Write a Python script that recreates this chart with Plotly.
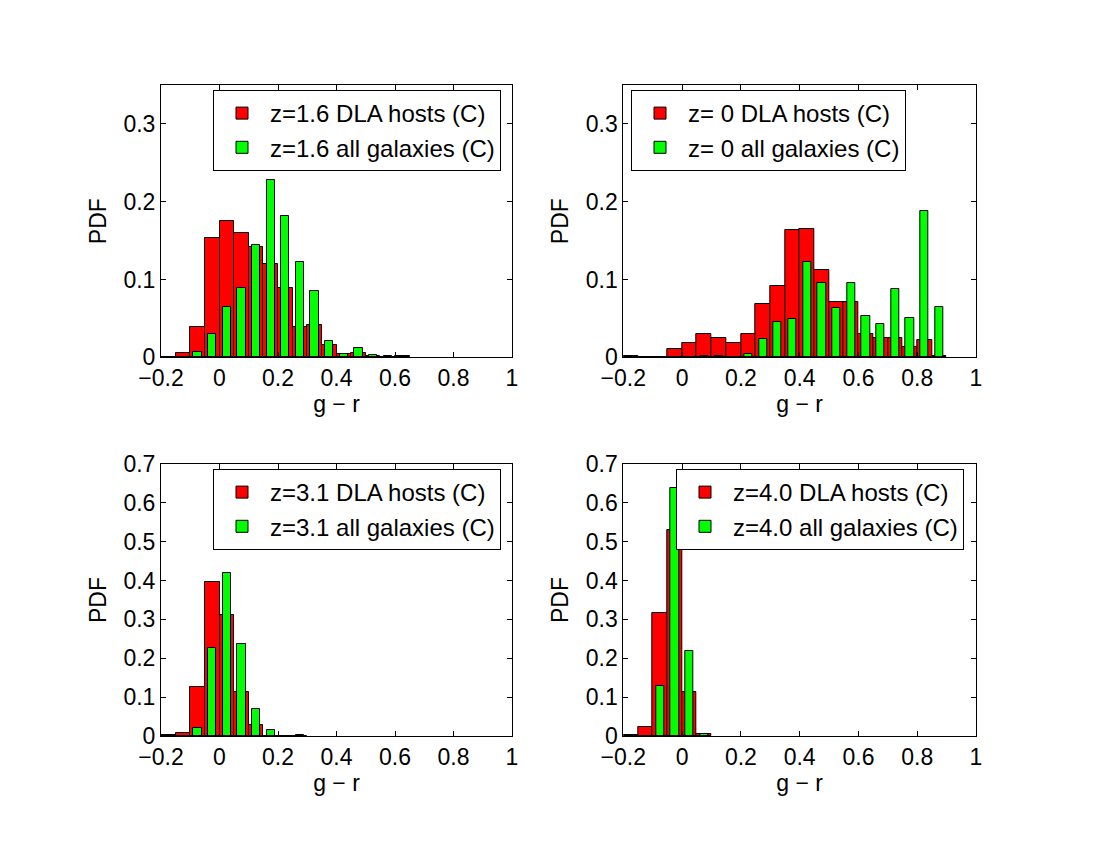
import plotly.graph_objects as go

# ---------------- data ----------------
# panel 1: z = 1.6
bins_z16 = [-0.175, -0.125, -0.075, -0.025, 0.025, 0.075, 0.125, 0.175, 0.225,
            0.275, 0.325, 0.375, 0.425, 0.475, 0.525, 0.575, 0.625]
dla_z16 = [0.0, 0.005, 0.0386, 0.153, 0.175, 0.160, 0.1416, 0.120, 0.089,
           0.0395, 0.041, 0.016, 0.004, 0.0056, 0.002, 0.001, 0.002]
all_z16 = [0.0, 0.0, 0.0073, 0.0296, 0.0644, 0.0897, 0.1446, 0.2283, 0.182,
           0.123, 0.0854, 0.0215, 0.0043, 0.0116, 0.0026, 0.0013, 0.0005]

# panel 2: z = 0
bins_z0 = [-0.175, -0.125, -0.075, -0.025, 0.025, 0.075, 0.125, 0.175, 0.225,
           0.275, 0.325, 0.375, 0.425, 0.475, 0.525, 0.575, 0.625, 0.675,
           0.725, 0.775, 0.825, 0.875]
dla_z0 = [0.0017, 0.0, 0.0, 0.0107, 0.018, 0.0296, 0.0245, 0.018, 0.0296,
          0.068, 0.0914, 0.1635, 0.165, 0.1124, 0.0708, 0.0708, 0.0296, 0.0245,
          0.0245, 0.0129, 0.0223, 0.0017]
all_z0 = [0.0, 0.0, 0.0, 0.0005, 0.0003, 0.0013, 0.0017, 0.001, 0.0039,
          0.024, 0.046, 0.0498, 0.1227, 0.0961, 0.0631, 0.0953, 0.0528, 0.0425,
          0.0876, 0.0502, 0.188, 0.0652]

# panel 3: z = 3.1
bins_z31 = [-0.175, -0.125, -0.075, -0.025, 0.025, 0.075, 0.125, 0.175, 0.225, 0.275]
dla_z31 = [0.0026, 0.0077, 0.125, 0.396, 0.311, 0.112, 0.0274, 0.001, 0.0, 0.0]
all_z31 = [0.0, 0.0, 0.0197, 0.227, 0.4185, 0.236, 0.0686, 0.0146, 0.0, 0.0017]

# panel 4: z = 4.0
bins_z40 = [-0.175, -0.125, -0.075, -0.025, 0.025, 0.075]
dla_z40 = [0.0026, 0.023, 0.317, 0.530, 0.112, 0.0043]
all_z40 = [0.0, 0.001, 0.1295, 0.637, 0.220, 0.0043]

labels_dla = ["z=1.6 DLA hosts (C)", "z= 0 DLA hosts (C)",
              "z=3.1 DLA hosts (C)", "z=4.0 DLA hosts (C)"]
labels_all = ["z=1.6 all galaxies (C)", "z= 0 all galaxies (C)",
              "z=3.1 all galaxies (C)", "z=4.0 all galaxies (C)"]

x_ticks = [-0.2, 0, 0.2, 0.4, 0.6, 0.8, 1]
x_ticktext = ["\u22120.2", "0", "0.2", "0.4", "0.6", "0.8", "1"]
y_ticks_top = [0, 0.1, 0.2, 0.3]
y_ticks_bot = [0, 0.1, 0.2, 0.3, 0.4, 0.5, 0.6, 0.7]

# ---------------- styling ----------------
FONT = "Liberation Sans, Arial, Helvetica, sans-serif"
FS = 23
RED = "#ff0000"
GREEN = "#00ff00"
W_RED = 0.05
W_GREEN = 0.028

panels = [
    (bins_z16, dla_z16, all_z16),
    (bins_z0, dla_z0, all_z0),
    (bins_z31, dla_z31, all_z31),
    (bins_z40, dla_z40, all_z40),
]

fig = go.Figure()
for i, (bins, dla, alls) in enumerate(panels):
    k = i + 1
    xa = "x" if k == 1 else f"x{k}"
    ya = "y" if k == 1 else f"y{k}"
    lg = "legend" if k == 1 else f"legend{k}"
    fig.add_trace(go.Bar(
        x=bins, y=dla, width=[W_RED] * len(bins), name=labels_dla[i],
        marker=dict(color=RED, line=dict(color="black", width=1)),
        xaxis=xa, yaxis=ya, legend=lg, showlegend=True))
    fig.add_trace(go.Bar(
        x=bins, y=alls, width=[W_GREEN] * len(bins), name=labels_all[i],
        marker=dict(color=GREEN, line=dict(color="black", width=1)),
        xaxis=xa, yaxis=ya, legend=lg, showlegend=True))

W, H = 1100, 850
OFF = 8  # page body margin offset of the rendered figure


def px_x(v):
    return (v - OFF) / W


def px_y(v):
    return 1 - (v - OFF) / H


xdom_l = [px_x(161), px_x(512)]
xdom_r = [px_x(623.3), px_x(976)]
ydom_t = [px_y(357.3), px_y(85)]
ydom_b = [px_y(736), px_y(464)]


def xaxis(dom, anchor):
    return dict(domain=dom, anchor=anchor, range=[-0.2, 1], tickvals=x_ticks,
                ticktext=x_ticktext, automargin=False,
                ticks="inside", ticklen=5, tickcolor="black", tickwidth=1,
                showline=True, linecolor="black", linewidth=1, mirror="ticks",
                showgrid=False, zeroline=False,
                tickfont=dict(family=FONT, size=FS, color="black"),
                title=dict(text="g \u2212 r", standoff=4,
                           font=dict(family=FONT, size=FS, color="black")))


def yaxis(dom, anchor, rng, ticks):
    return dict(domain=dom, anchor=anchor, range=rng, tickvals=ticks,
                ticktext=[("%g" % t) for t in ticks], automargin=False,
                ticks="inside", ticklen=5, tickcolor="black", tickwidth=1,
                showline=True, linecolor="black", linewidth=1, mirror="ticks",
                showgrid=False, zeroline=False,
                tickfont=dict(family=FONT, size=FS, color="black"),
                title=dict(text="PDF", standoff=10,
                           font=dict(family=FONT, size=FS, color="black")))


def legend(x, y):
    return dict(x=px_x(x), y=px_y(y), xanchor="left", yanchor="top",
                bgcolor="white", bordercolor="black", borderwidth=1,
                font=dict(family=FONT, size=24, color="black"),
                itemwidth=46, tracegroupgap=0, traceorder="normal")


fig.update_layout(
    width=W, height=H,
    margin=dict(l=0, r=0, t=0, b=0, autoexpand=False),
    paper_bgcolor="white", plot_bgcolor="white",
    barmode="overlay", bargap=0,
    font=dict(family=FONT, size=FS, color="black"),
    xaxis=xaxis(xdom_l, "y"),
    yaxis=yaxis(ydom_t, "x", [0, 0.35], y_ticks_top),
    xaxis2=xaxis(xdom_r, "y2"),
    yaxis2=yaxis(ydom_t, "x2", [0, 0.35], y_ticks_top),
    xaxis3=xaxis(xdom_l, "y3"),
    yaxis3=yaxis(ydom_b, "x3", [0, 0.7], y_ticks_bot),
    xaxis4=xaxis(xdom_r, "y4"),
    yaxis4=yaxis(ydom_b, "x4", [0, 0.7], y_ticks_bot),
    legend=legend(213, 90),
    legend2=legend(631, 90),
    legend3=legend(213, 469),
    legend4=legend(676, 469),
)

fig.write_html("out.html")
